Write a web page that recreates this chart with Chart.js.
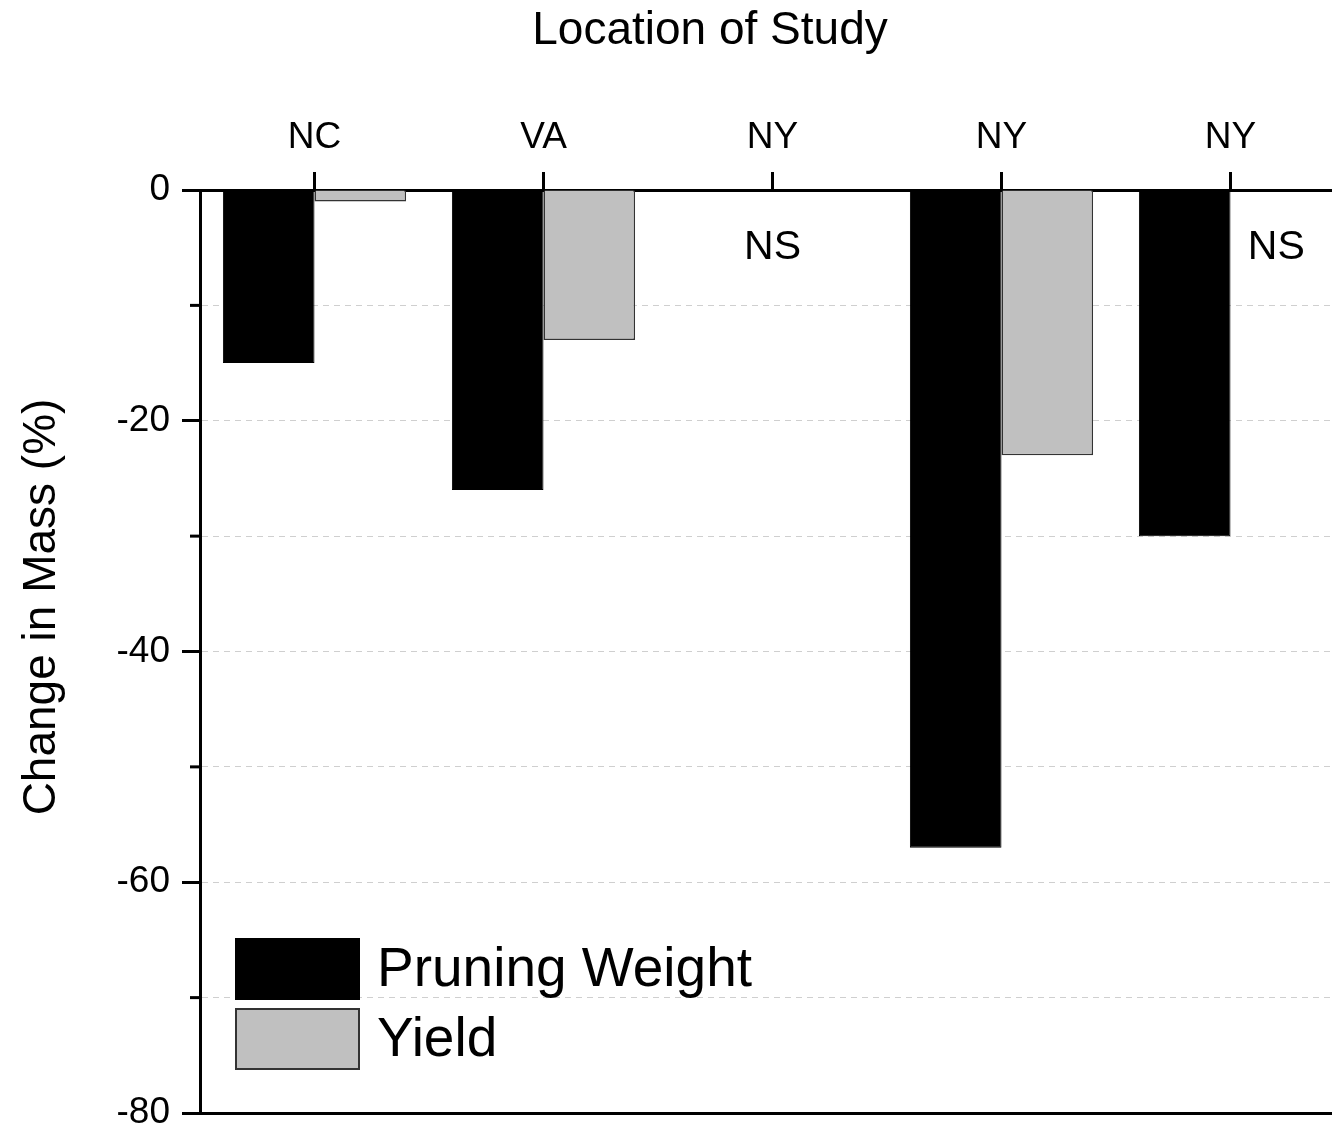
<!DOCTYPE html>
<html>
<head>
<meta charset="utf-8">
<script src="https://cdn.jsdelivr.net/npm/chart.js@4.4.1/dist/chart.umd.min.js"></script>
<style>
    html, body { margin: 0; padding: 0; background: #fff; overflow: hidden; }
    #wrap { width: 1346px; height: 1130px; }
</style>
</head>
<body>
<div id="wrap"><canvas id="massChart"></canvas></div>
<script>
const locations = ["NC", "VA", "NY", "NY", "NY"];
const pruningWeight = [-15, -26, null, -57, -30];
const yieldChange = [-1, -13, null, -23, null];
const nsText = "NS";

const FONT = "'Liberation Sans', Arial, sans-serif";

// titles, NS marks, minor ticks and legend drawn on top of the chart
const extras = {
    id: "extras",
    afterDraw(chart) {
        const ctx = chart.ctx;
        const area = chart.chartArea;
        const x = chart.scales.x;
        const y = chart.scales.y;
        ctx.save();

        // minor y ticks
        ctx.strokeStyle = "#000";
        ctx.lineWidth = 3;
        y.ticks.forEach(t => {
            if (t.value % 20 === 0) return;
            const py = y.getPixelForValue(t.value);
            ctx.beginPath();
            ctx.moveTo(area.left - 10, py);
            ctx.lineTo(area.left, py);
            ctx.stroke();
        });

        // NS labels where yield was not significant
        ctx.fillStyle = "#000";
        ctx.font = "41px " + FONT;
        ctx.textAlign = "center";
        ctx.textBaseline = "middle";
        const m1 = chart.getDatasetMeta(1);
        yieldChange.forEach((v, i) => {
            if (v !== null) return;
            let px = x.getPixelForValue(i);
            if (pruningWeight[i] !== null && m1.data[i] && isFinite(m1.data[i].x)) px = m1.data[i].x;
            ctx.fillText(nsText, px, y.getPixelForValue(-5));
        });

        // top title
        ctx.font = "46px " + FONT;
        ctx.fillText("Location of Study", 710, 31);

        // y title
        ctx.save();
        ctx.translate(42, 607);
        ctx.rotate(-Math.PI / 2);
        ctx.fillText("Change in Mass (%)", 0, 0);
        ctx.restore();

        // legend
        const ds = chart.data.datasets;
        ctx.font = "55px " + FONT;
        ctx.textAlign = "left";
        ds.forEach((d, i) => {
            const bx = area.left + 35;
            const by = area.bottom - 175 + i * 70;
            ctx.fillStyle = d.backgroundColor;
            ctx.fillRect(bx, by, 125, 62);
            ctx.lineWidth = 2;
            ctx.strokeStyle = d.borderColor;
            ctx.strokeRect(bx + 1, by + 1, 123, 60);
            ctx.fillStyle = "#000";
            ctx.fillText(d.label, bx + 142, by + 33);
        });

        ctx.restore();
    }
};

new Chart(document.getElementById("massChart"), {
    type: "bar",
    data: {
        labels: locations,
        datasets: [
            {
                label: "Pruning Weight",
                data: pruningWeight,
                backgroundColor: "#000000",
                borderColor: "#000000",
                borderWidth: 1,
                xAxisID: "x"
            },
            {
                label: "Yield",
                data: yieldChange,
                backgroundColor: "#c0c0c0",
                borderColor: "#333333",
                borderWidth: 1.5,
                xAxisID: "x"
            }
        ]
    },
    options: {
        responsive: true,
        maintainAspectRatio: false,
        animation: false,
        layout: { padding: { left: 0, right: 1, top: 0, bottom: 0 } },
        datasets: { bar: { categoryPercentage: 0.8, barPercentage: 1.0 } },
        plugins: {
            legend: { display: false },
            title: { display: false },
            tooltip: { enabled: false }
        },
        scales: {
            x: {
                type: "category",
                position: "top",
                afterFit: s => { s.height = 190; s.paddingLeft = 0; s.paddingRight = 0; },
                grid: {
                    offset: false,
                    drawOnChartArea: false,
                    tickLength: 18,
                    tickWidth: 3,
                    tickColor: "#000"
                },
                border: { color: "#000", width: 3 },
                ticks: {
                    color: "#000",
                    padding: 12,
                    font: { family: FONT, size: 37 }
                }
            },
            xb: {
                type: "category",
                position: "bottom",
                labels: locations,
                afterFit: s => { s.height = 17; s.paddingLeft = 0; s.paddingRight = 0; },
                grid: { drawOnChartArea: false, drawTicks: false },
                border: { color: "#000", width: 3 },
                ticks: { display: false }
            },
            y: {
                min: -80,
                max: 0,
                afterFit: s => { s.width = 200; s.paddingTop = 0; s.paddingBottom = 0; },
                grid: {
                    color: c => (c.tick && (c.tick.value === 0 || c.tick.value === -80)) ? "rgba(0,0,0,0)" : "#cfcfcf",
                    lineWidth: 1,
                    tickLength: 18,
                    tickWidth: 3,
                    tickColor: c => (c.tick && c.tick.value % 20 === 0) ? "#000" : "rgba(0,0,0,0)"
                },
                border: { color: "#000", width: 3, dash: [6, 5] },
                ticks: {
                    stepSize: 10,
                    color: "#000",
                    padding: 12,
                    font: { family: FONT, size: 37 },
                    callback: v => (v % 20 === 0 ? v : "")
                }
            }
        }
    },
    plugins: [extras]
});
</script>
</body>
</html>
